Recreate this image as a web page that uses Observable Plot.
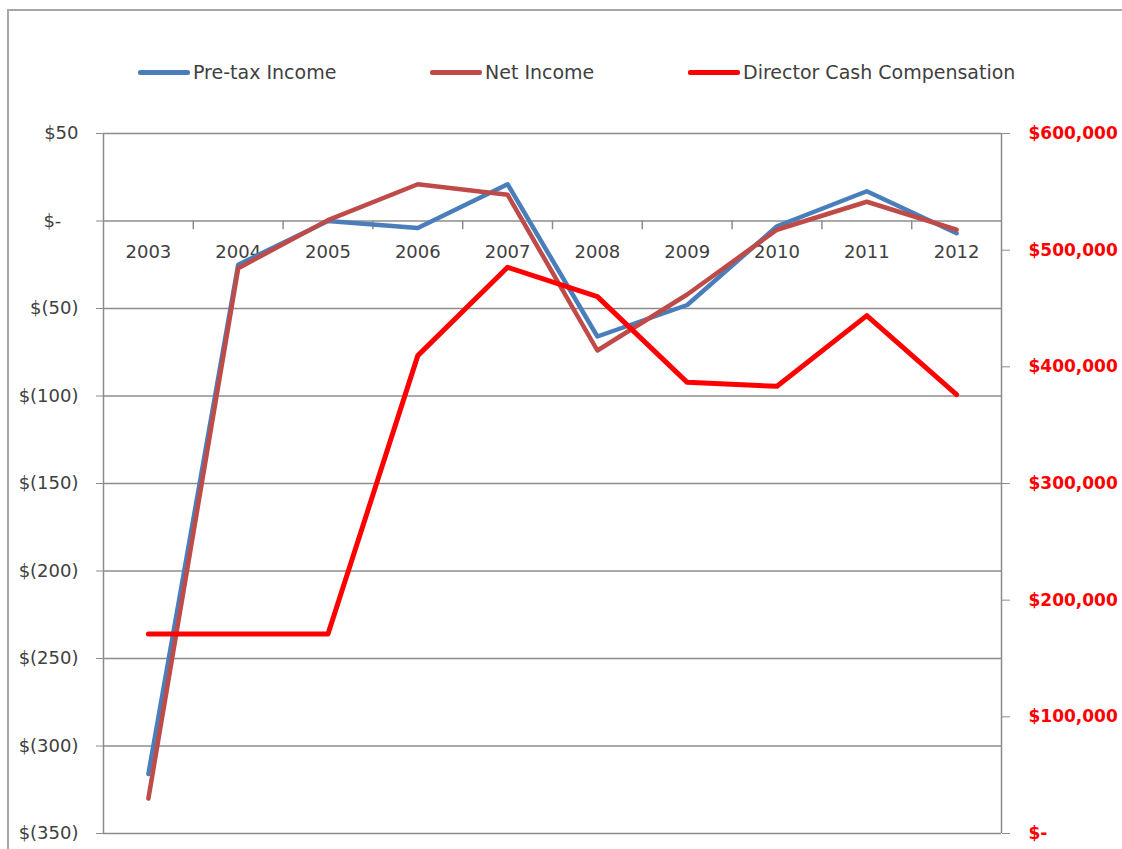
<!DOCTYPE html>
<html>
<head>
<meta charset="utf-8">
<script src="https://cdn.jsdelivr.net/npm/d3@7"></script>
<script src="https://cdn.jsdelivr.net/npm/@observablehq/plot@0.6"></script>
<style>
  html, body { margin: 0; padding: 0; background: #fff; overflow: hidden; }
  #wrap { position: relative; width: 1122px; height: 849px; }
  #frame { position: absolute; left: 7px; top: 9px; width: 1140px; height: 860px; border: 2px solid #a6a6a6; box-sizing: border-box; }
  #legend { position: relative; height: 100px; font-family: "DejaVu Sans", sans-serif; font-size: 19px; color: #404040; }
  .item { position: absolute; top: 61px; display: flex; align-items: center; white-space: nowrap; }
  .swatch { width: 52px; height: 5px; margin-right: 3px; border-radius: 2px; }
  #chart { position: relative; }
</style>
</head>
<body>
<div id="wrap">
  <div id="frame"></div>
  <div id="legend"></div>
  <div id="chart"></div>
</div>
<script>
const years = [2003, 2004, 2005, 2006, 2007, 2008, 2009, 2010, 2011, 2012];
const pretaxIncome = [-316, -25, 0, -4, 21, -66, -48, -3, 17, -7];
const netIncome = [-330, -27, 0.5, 21, 15, -74, -42, -5, 11, -5];
const directorComp = [171000, 171000, 171000, 409600, 485300, 460200, 386700, 383300, 443900, 376200];
const leftTicks = [50, 0, -50, -100, -150, -200, -250, -300, -350];
const rightTicks = [0, 100000, 200000, 300000, 400000, 500000, 600000];
const seriesNames = ["Pre-tax Income", "Net Income", "Director Cash Compensation"];
const seriesColors = ["#4a7ebb", "#be4b48", "#ff0000"];

const leftDomain = [-350, 50];
const rightDomain = [0, 600000];
const xDomain = [years[0] - 0.5, years[years.length - 1] + 0.5];
const toLeft = v => leftDomain[0] + (v - rightDomain[0]) / (rightDomain[1] - rightDomain[0]) * (leftDomain[1] - leftDomain[0]);
const fromLeft = d => Math.round((rightDomain[0] + (d - leftDomain[0]) / (leftDomain[1] - leftDomain[0]) * (rightDomain[1] - rightDomain[0])) / 1000) * 1000;
const fmtL = d => d === 0 ? "$-\u00a0\u00a0\u00a0" : d < 0 ? `$(${-d})` : `$${d}`;
const fmtR = v => v === 0 ? "$-" : "$" + d3.format(",")(v);

const rows = years.map((y, i) => ({year: y, pretax: pretaxIncome[i], net: netIncome[i], dir: directorComp[i]}));
const boundaries = years.slice(1).map(y => y - 0.5);

// legend
const legendPos = [138, 430, 688];
const legend = document.getElementById("legend");
seriesNames.forEach((name, i) => {
  const it = document.createElement("div");
  it.className = "item";
  it.style.left = legendPos[i] + "px";
  it.innerHTML = `<span class="swatch" style="background:${seriesColors[i]}"></span><span>${name}</span>`;
  legend.appendChild(it);
});

const gridColor = "#8c8c8c";
const chart = Plot.plot({
  width: 1122,
  height: 749,
  marginTop: 33,
  marginBottom: 16,
  marginLeft: 103,
  marginRight: 121,
  x: {domain: xDomain, axis: null},
  y: {domain: leftDomain, axis: null},
  style: {fontFamily: "DejaVu Sans, sans-serif", fontSize: "18px", color: "#404040", background: "transparent"},
  marks: [
    Plot.ruleY(leftTicks, {y: d => d, stroke: gridColor, strokeWidth: 1.5}),
    Plot.ruleX([xDomain[0]], {x: d => d, stroke: gridColor, strokeWidth: 1.5}),
    Plot.ruleX([xDomain[1]], {x: d => d, stroke: gridColor, strokeWidth: 1.5}),
    Plot.axisY(leftTicks, {tickFormat: fmtL, tickSize: 7, tickPadding: 18, stroke: gridColor, fill: "#404040", fontSize: 18, label: null}),
    Plot.axisY(rightTicks.map(toLeft), {anchor: "right", tickFormat: d => fmtR(fromLeft(d)), tickSize: 8, tickPadding: 19, stroke: gridColor, fill: "#ff0000", fontWeight: "bold", fontSize: 17, label: null}),
    Plot.ruleX(boundaries, {x: d => d, y1: 0, y2: -5, stroke: gridColor, strokeWidth: 1.5}),
    Plot.text(years, {x: d => d, y: () => 0, dy: 31, text: d => String(d), fill: "#404040", fontSize: 18}),
    Plot.line(rows, {x: "year", y: "pretax", stroke: seriesColors[0], strokeWidth: 4.5}),
    Plot.line(rows, {x: "year", y: "net", stroke: seriesColors[1], strokeWidth: 4.5}),
    Plot.line(rows, {x: "year", y: d => toLeft(d.dir), stroke: seriesColors[2], strokeWidth: 5})
  ]
});
document.getElementById("chart").appendChild(chart);
</script>
</body>
</html>
